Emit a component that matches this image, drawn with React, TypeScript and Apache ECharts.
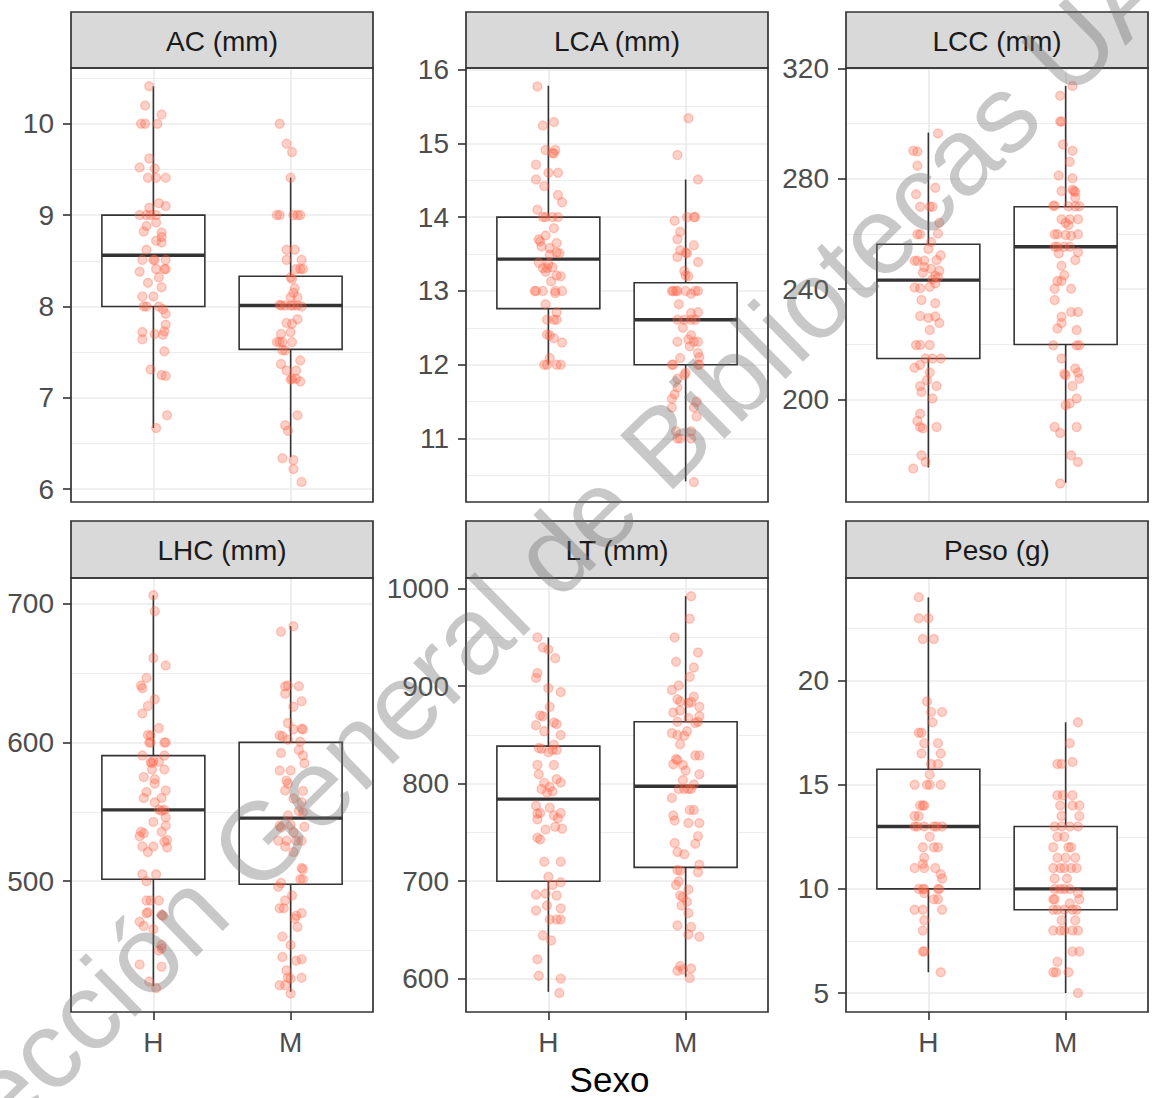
import React, { useEffect, useRef } from "react";
import * as echarts from "echarts";

// ---------- data ----------
const categories = ["H", "M"];
const panelTitles = ["AC (mm)", "LCA (mm)", "LCC (mm)", "LHC (mm)", "LT (mm)", "Peso (g)"];
const xTitle = "Sexo";
const watermarkText = "Dirección General de Bibliotecas UAQ";

// y-axis ranges, major ticks and minor grid values per panel
const yRanges = [[5.86, 10.61], [10.14, 16.02], [162.8, 320.1], [405.7, 718.5], [565.8, 1011], [4.09, 24.93]];
const yMajor = [[6, 7, 8, 9, 10], [11, 12, 13, 14, 15, 16], [200, 240, 280, 320], [500, 600, 700], [600, 700, 800, 900, 1000], [5, 10, 15, 20]];
const yMinor = [[6.5, 7.5, 8.5, 9.5, 10.5], [10.5, 11.5, 12.5, 13.5, 14.5, 15.5], [180, 220, 260, 300], [450, 550, 650], [650, 750, 850, 950], [7.5, 12.5, 17.5, 22.5]];

// box stats: [lower whisker, Q1, median, Q3, upper whisker] for H, M
const acBox = [[6.67, 8, 8.56, 9, 10.41], [6.35, 7.53, 8.01, 8.33, 9.41]];
const lcaBox = [[12.0, 12.76, 13.43, 14.0, 15.78], [10.42, 12.0, 12.61, 13.11, 14.51]];
const lccBox = [[175.3, 214.8, 243.2, 256.2, 296.7], [169.8, 219.9, 255.3, 269.8, 313.6]];
const lhcBox = [[424.3, 501.4, 551.4, 590.5, 706], [420.3, 497.8, 545.4, 600, 683.8]];
const ltBox = [[586.5, 700, 784.2, 838.5, 950], [601.9, 714.2, 797.3, 863.5, 992.3]];
const pesoBox = [[6, 10, 13, 15.75, 24], [5, 9, 10, 13, 18]];

// jittered points: [horizontal jitter offset, value]
const acH = [[-0.03,10.41],[-0.06,10.2],[0.06,10.1],[-0.09,10],[-0.06,10],[0.03,10],[-0.03,9.62],[-0.1,9.52],[0.01,9.51],[-0.04,9.41],[0.02,9.41],[0.09,9.41],[0.04,9.13],[0.09,9.1],[-0.03,9.08],[-0.1,9],[-0.05,9],[-0.02,9],[0.02,9],[0.02,8.92],[-0.05,8.88],[-0.07,8.82],[0.06,8.81],[0.06,8.76],[0.02,8.72],[0.06,8.7],[-0.05,8.62],[-0.08,8.51],[0,8.51],[0.01,8.51],[0.09,8.51],[0.02,8.41],[0.08,8.41],[0.09,8.41],[-0.1,8.38],[0.04,8.32],[-0.04,8.26],[0.06,8.21],[-0.08,8.11],[0,8.11],[-0.07,8],[-0.05,8],[0.04,8],[0.07,7.97],[0.09,7.92],[0.09,7.8],[0.08,7.73],[0.07,7.69],[0.01,7.7],[-0.08,7.72],[-0.08,7.64],[0.08,7.51],[-0.02,7.31],[0.06,7.25],[0.09,7.24],[0.1,6.81],[0.02,6.67]];
const acM = [[-0.08,10],[-0.03,9.78],[0.01,9.69],[0,9.41],[-0.1,9],[-0.08,9],[0.02,9],[0.05,9],[0.07,9],[-0.03,8.62],[0.03,8.62],[-0.03,8.51],[0.08,8.51],[0.04,8.41],[0.07,8.41],[0.09,8.41],[0,8.32],[0.01,8.3],[0.03,8.2],[0.02,8.15],[0.05,8.1],[0,8.1],[-0.08,8.02],[-0.07,8.01],[-0.04,8.01],[0,8.01],[0.02,8.01],[0.05,8.01],[0.08,8],[0.01,7.81],[-0.03,7.82],[0.05,7.86],[-0.07,7.7],[0,7.72],[-0.1,7.61],[-0.08,7.61],[-0.06,7.61],[0.01,7.61],[-0.06,7.52],[-0.04,7.52],[0.07,7.41],[-0.07,7.37],[-0.03,7.3],[0.04,7.3],[0.01,7.21],[0.04,7.21],[0,7.2],[0.07,7.18],[0.05,6.81],[-0.04,6.7],[-0.02,6.64],[-0.06,6.34],[0.02,6.32],[0.02,6.22],[0.08,6.08]];
const lcaH = [[-0.08,15.77],[0.04,15.29],[-0.04,15.24],[-0.02,14.91],[0.05,14.91],[0.03,14.87],[0.04,14.86],[-0.09,14.71],[0,14.6],[0.07,14.6],[-0.09,14.51],[-0.03,14.42],[0.07,14.3],[0.1,14.2],[-0.08,14.1],[-0.04,14],[-0.02,14],[0.03,14],[0.07,14],[0.04,13.85],[-0.02,13.75],[-0.07,13.7],[-0.06,13.67],[0.06,13.65],[-0.05,13.6],[0.01,13.58],[0.06,13.52],[0.08,13.51],[0.01,13.49],[-0.07,13.38],[0,13.36],[-0.04,13.31],[-0.01,13.31],[0.03,13.32],[-0.02,13.26],[0.06,13.21],[0.09,13.2],[0.02,13.13],[-0.1,13],[-0.09,13],[-0.04,13],[0.05,13],[0.1,13],[0.05,12.97],[-0.02,12.82],[0.06,12.71],[-0.01,12.61],[0.04,12.61],[0.06,12.61],[-0.01,12.41],[0.01,12.4],[0.04,12.36],[0.1,12.3],[0.01,12.09],[-0.03,12],[-0.01,12],[0.06,12],[0.09,12]];
const lcaM = [[0.02,15.34],[-0.06,14.84],[0.09,14.51],[-0.08,13.95],[0.01,14],[0.06,14],[0.07,14],[-0.04,13.8],[-0.06,13.7],[0.06,13.62],[-0.04,13.55],[0,13.52],[0.01,13.51],[-0.06,13.46],[0.09,13.39],[-0.01,13.27],[0,13.21],[0.02,13.2],[-0.1,13],[-0.09,13],[-0.07,13],[-0.06,13],[0,13],[0.07,13],[0.09,13],[0.04,12.96],[-0.05,12.82],[0.09,12.71],[0.04,12.7],[-0.06,12.61],[-0.01,12.61],[0.04,12.61],[0.07,12.61],[-0.02,12.5],[0.04,12.4],[0.02,12.34],[-0.06,12.31],[0.06,12.31],[0.09,12.31],[0.03,12.25],[0.09,12.16],[0.1,12.1],[-0.04,12.09],[-0.1,12],[-0.09,12],[0.09,12],[0.1,12],[0,11.89],[-0.01,11.86],[-0.06,11.81],[-0.06,11.69],[-0.08,11.6],[-0.1,11.54],[0.08,11.5],[-0.1,11.42],[0.06,11.42],[0.08,11.3],[-0.07,11.1],[0.04,11.1],[-0.06,11],[-0.04,11],[0.04,11],[0.06,10.41]];
const lccH = [[0.07,296.4],[-0.11,290.1],[-0.08,289.8],[-0.08,284.7],[0.05,276.7],[-0.09,274.3],[-0.06,269.8],[0.01,269.8],[0.03,269.8],[0.08,264],[0.07,260.1],[-0.08,259.8],[-0.06,259.8],[0.02,257],[0,254.5],[0.09,252.2],[-0.1,250.2],[-0.08,250.2],[-0.03,250.2],[0.06,250.5],[-0.03,248],[0.02,247.3],[0.08,246.6],[-0.04,245.9],[0.05,244.8],[0.07,244.3],[0.03,243.5],[0.05,242],[-0.1,240.5],[-0.06,240.3],[0.01,240.8],[-0.05,236],[0.05,234.8],[-0.06,230.2],[0,229.5],[0.05,230],[0.08,227.7],[0.01,225.1],[-0.09,219.7],[-0.06,219.7],[0.01,219.7],[-0.02,214.8],[0.03,214.8],[0.09,214.8],[-0.1,211.5],[-0.06,212.5],[0.01,209.7],[-0.01,206.9],[-0.06,204.8],[0.06,204.8],[-0.05,202.7],[0.03,200.3],[-0.06,194.8],[-0.08,192.2],[-0.06,190],[-0.04,189.5],[0.06,190],[-0.05,179.7],[-0.02,177.3],[-0.11,174.9]];
const lccM = [[0.05,313.6],[-0.04,310],[-0.04,300.7],[-0.03,300.7],[-0.02,292.4],[0.05,290.1],[0.03,286.1],[-0.05,281.1],[0.05,280.1],[-0.03,275.5],[0.05,276],[0.06,275.5],[0.07,275.2],[0.07,273.1],[-0.09,270.2],[-0.08,270.2],[0.02,270],[0.07,270],[0.1,270],[-0.03,265.3],[0.03,265.3],[0.09,265.3],[0,264],[0.02,263.2],[-0.08,259.8],[-0.06,259.8],[0,259.6],[0.04,259.3],[0.09,259.8],[-0.08,255.3],[-0.06,255.3],[-0.01,255.3],[0.03,255.3],[0.09,253.3],[-0.05,252.9],[0.07,250.5],[-0.03,248.4],[-0.01,245],[-0.06,242.9],[-0.03,242.9],[-0.08,240.1],[0.04,240.1],[-0.08,236],[0.04,231.7],[0.09,231.7],[-0.03,229.9],[-0.03,227.7],[-0.06,225.7],[0.08,225.1],[-0.09,219.6],[0.08,219.6],[0.1,219.6],[-0.03,214.8],[0.07,211.2],[0.09,209.7],[-0.01,209.3],[0,208.7],[0.1,207.5],[0.05,204.8],[0.08,200.3],[0.03,198.5],[0,197.9],[-0.08,190],[0.08,190],[-0.04,187.8],[0.04,179.7],[0.09,177.3],[-0.04,169.5]];
const lhcH = [[0,706],[0.01,694.6],[0,660.8],[0.09,655.4],[-0.05,646.5],[-0.09,641],[-0.08,639],[0.01,631.1],[-0.04,626.2],[-0.08,620.8],[0.04,610.3],[-0.04,605.4],[-0.02,605],[-0.03,600],[-0.02,600],[0.08,600],[0.09,600],[-0.08,590.5],[0.08,590.5],[-0.02,585.9],[-0.01,585],[0,586.5],[0.04,586],[-0.01,580.5],[0.08,580.5],[-0.07,575.1],[0.01,573.5],[0.01,570.3],[0.09,565.4],[-0.05,564.3],[-0.07,560],[0.06,560],[0.01,556.8],[0.04,551.4],[0.06,550.8],[0.08,551.4],[0.09,546],[0,542.7],[0.09,540],[-0.09,535.7],[-0.07,534.6],[-0.1,532.4],[0.06,535.7],[0.1,529.7],[0.08,528.4],[0.1,524.3],[-0.08,524.9],[0,524.9],[-0.04,521],[-0.08,505],[0.02,505],[-0.05,500],[-0.05,486],[-0.02,486],[0.04,486],[-0.04,477.6],[-0.05,476.8],[0.06,475.7],[0.07,475],[-0.1,470.8],[-0.07,467.6],[0,465.4],[0.06,454],[0.04,450],[0.06,451.4],[-0.1,440],[0.06,438.4],[-0.03,427.6],[0.02,423]];
const lhcM = [[0.02,683.8],[-0.07,679.7],[-0.04,640.5],[-0.02,641],[0.06,640.5],[-0.04,635.1],[0.08,629.7],[0.02,625.7],[-0.02,614],[0.09,609.5],[0.08,609.8],[-0.08,605],[-0.06,604.5],[0.02,609.5],[-0.02,602],[0.07,600.5],[0.09,590.5],[0.06,594.6],[-0.07,592.4],[0.1,585],[-0.08,579.7],[0,579.7],[-0.03,572.4],[-0.02,570.3],[0.09,565],[-0.04,565.4],[0.02,559.5],[0.08,556.8],[0.06,550.5],[0.09,549.7],[-0.02,547.3],[-0.08,540],[-0.07,538.6],[0,540.5],[0.1,539.2],[0.02,535],[-0.09,529.2],[-0.03,529.2],[0.04,529.2],[0.08,529.2],[-0.04,525],[0.02,521],[0.08,509.5],[0.09,508.6],[0.07,501.4],[0.09,501.4],[-0.07,498.6],[-0.09,495.9],[0.01,489.7],[-0.04,486],[-0.08,480.5],[-0.05,480.5],[0.08,477],[0.04,475.1],[0.03,473],[0.05,467],[-0.06,460],[0,454],[-0.06,445.4],[0.08,443.8],[0.04,442.7],[-0.03,435.7],[-0.02,430.3],[0,429.7],[0.08,430.3],[-0.08,424.9],[-0.04,424.9],[0,419]];
const ltH = [[-0.08,950],[-0.04,939.6],[0,937.7],[0.05,928.8],[-0.08,913.5],[-0.09,908.5],[0,898],[0.09,894],[0.01,878.8],[-0.06,870],[-0.04,869.2],[0.04,862.7],[0.06,861.2],[-0.09,860],[-0.03,853.8],[0.09,850],[-0.07,836.5],[-0.05,835.8],[0,832.3],[0.03,834.6],[0.06,834.6],[0.04,840],[-0.08,819.2],[0.04,819.2],[-0.07,809.6],[0.06,804.6],[0.09,801.2],[-0.03,800.8],[-0.05,794.6],[0.01,796.5],[0.03,791.9],[-0.01,790.8],[-0.09,777.3],[0.01,775.4],[-0.08,769.2],[-0.06,770],[0.09,770],[0.04,767.3],[0.07,764.6],[-0.08,763.5],[-0.02,753.1],[0.05,755.8],[0.1,753.8],[-0.08,744.6],[-0.06,742.7],[-0.03,720],[0.09,720],[0,704.6],[0.09,698.8],[0.03,696.2],[-0.09,686.2],[-0.02,687.3],[0.06,685.4],[-0.01,675],[-0.09,670],[0.09,671.9],[0.01,660.8],[0.06,660.8],[0.09,660.8],[-0.04,644.2],[0.02,639.2],[-0.08,620],[-0.07,603],[0.09,600],[0.08,585.4]];
const ltM = [[0.04,992.3],[0.03,969.2],[-0.08,950],[0.09,934.6],[-0.07,925],[0.06,919.2],[0.03,909.6],[-0.05,900.8],[-0.1,896.2],[-0.06,886.5],[-0.04,884.2],[0.06,889.2],[0.02,882.7],[0.04,883.8],[0.1,878.8],[-0.09,873.1],[-0.04,875],[0.02,867.3],[0.1,869.2],[-0.06,863.5],[0.09,863.5],[0.07,862.3],[0.01,853.8],[-0.1,851.9],[-0.06,850],[-0.01,849.2],[-0.04,840.4],[-0.07,825.4],[-0.06,824.2],[-0.09,820],[0.07,828.8],[0.1,828.8],[-0.02,819.2],[0,813.5],[0.1,809.6],[-0.02,803.8],[0.06,799.2],[-0.05,794.6],[-0.01,794.6],[0.02,794.6],[0.04,794.6],[-0.1,785.4],[0.03,773.1],[0.06,773.1],[-0.09,767.3],[-0.08,762.3],[0.02,759.6],[0.1,759.6],[0.09,746.2],[0.07,738.5],[-0.08,739.2],[-0.06,730],[-0.01,727.7],[0.1,716.9],[0.09,709.2],[-0.06,711.5],[-0.04,710.8],[-0.05,700],[-0.07,696.2],[0.02,691.5],[-0.04,685.4],[-0.02,683.8],[0.01,678.8],[-0.03,675],[0.02,667.3],[-0.06,654.6],[0.04,653.1],[0.02,645.4],[0.1,643.1],[-0.04,613.1],[-0.06,608.1],[-0.02,609.2],[0.04,610.4],[0.03,600.8]];
const pesoH = [[-0.07,24],[-0.07,23],[0,23],[-0.04,22],[0.04,22],[-0.01,19],[0.02,18.5],[0.1,18.5],[0.03,18],[-0.07,17.5],[-0.05,17.5],[-0.03,17],[0.07,17],[-0.05,16.5],[0.09,16.5],[0.02,16],[0.07,16],[0.01,15.5],[-0.1,15],[-0.01,15],[0.01,15],[0.09,15],[-0.06,14],[-0.04,14],[-0.03,14],[-0.1,13.5],[-0.07,13.5],[-0.1,13],[-0.08,13],[-0.03,13],[0.04,13],[0.06,13],[0.1,13],[0.01,12.5],[-0.04,12],[0.04,12],[0.07,12],[-0.03,11.5],[-0.04,11.2],[-0.1,11],[-0.03,11],[0.05,11],[0.09,10.7],[0.1,10.5],[-0.07,10],[-0.04,10],[-0.03,10],[0.07,10],[0.08,10],[-0.03,9.8],[0.04,9.5],[0.07,9.5],[-0.1,9],[-0.04,9],[0.1,9],[-0.03,8.5],[-0.04,8],[-0.04,7],[-0.03,7],[0.09,6]];
const pesoM = [[0.09,18],[0.03,17],[-0.06,16],[-0.03,16],[0.05,16.1],[-0.06,14.5],[-0.02,14.5],[0.05,14.5],[-0.04,14],[0.05,14],[0.1,14],[-0.03,13.5],[0.1,13.5],[-0.08,13],[-0.03,13],[0.03,13],[0.09,13],[-0.06,12.5],[-0.01,12.5],[-0.09,12],[0.02,12],[0.04,12],[-0.06,11.5],[0,11.5],[0.07,11.5],[-0.09,11],[-0.04,11],[-0.01,11],[0.04,11],[0.08,11],[-0.08,10.5],[0.01,10.5],[-0.08,10],[-0.04,10],[-0.01,10],[0.03,10],[0.09,9.8],[-0.09,9.5],[-0.08,9.5],[0.1,9.5],[0.03,9.3],[-0.09,9],[-0.06,9],[-0.01,9],[0.05,9],[0.08,9],[-0.03,8.5],[0.07,8.5],[-0.09,8],[-0.04,8],[-0.01,8],[0.05,8],[0.09,8],[0.05,7],[0.1,7],[-0.06,6.5],[-0.09,6],[-0.07,6],[0.02,6],[0.09,5]];

const panelBoxes = [acBox, lcaBox, lccBox, lhcBox, ltBox, pesoBox];
const panelPoints = [[acH, acM], [lcaH, lcaM], [lccH, lccM], [lhcH, lhcM], [ltH, ltM], [pesoH, pesoM]];

// ---------- layout & style ----------
const FONT = "'Liberation Sans', Arial, Helvetica, sans-serif";
const COL_LEFT = [71, 466, 846];
const ROW_STRIP_TOP = [12, 521];
const ROW_TOP = [68, 578];
const PW = 302;
const PH = 434;
const DARK = "#333333";
const GRID = "#EBEBEB";
const PT = "rgba(255,99,71,0.3)";

function buildOption() {
  const grid: any[] = [];
  const xAxis: any[] = [];
  const yAxis: any[] = [];
  const series: any[] = [];
  const elements: any[] = [];

  for (let i = 0; i < 6; i++) {
    const r = Math.floor(i / 3);
    const c = i % 3;
    const left = COL_LEFT[c];
    const top = ROW_TOP[r];
    const bottomRow = r === 1;
    grid.push({ left, top, width: PW, height: PH, containLabel: false, outerBoundsMode: "none", show: false });

    xAxis.push({
      type: "value", gridIndex: i, min: 0.4, max: 2.6,
      axisLine: { show: false },
      axisTick: { show: bottomRow, length: 8, lineStyle: { color: DARK, width: 1.6 }, customValues: [1, 2] },
      axisLabel: {
        show: bottomRow, customValues: [1, 2], margin: 16,
        formatter: (v: number) => categories[Math.round(v) - 1] || "",
        color: "#4D4D4D", fontSize: 28, fontFamily: FONT,
      },
      splitLine: { show: true, lineStyle: { color: GRID, width: 1.7 } },
    });

    const [ymin, ymax] = yRanges[i];
    // minor grid axis (drawn first)
    yAxis.push({
      type: "value", gridIndex: i, min: ymin, max: ymax, position: "right",
      axisLine: { show: false },
      axisTick: { show: false, customValues: yMinor[i] },
      axisLabel: { show: false, customValues: yMinor[i] },
      splitLine: { show: true, lineStyle: { color: GRID, width: 0.9 } },
    });
    // major axis
    yAxis.push({
      type: "value", gridIndex: i, min: ymin, max: ymax, position: "left",
      axisLine: { show: false },
      axisTick: { show: true, length: 8, lineStyle: { color: DARK, width: 1.6 }, customValues: yMajor[i] },
      axisLabel: {
        show: true, customValues: yMajor[i], margin: 17,
        formatter: (v: number) => String(v),
        color: "#4D4D4D", fontSize: 28, fontFamily: FONT,
      },
      splitLine: { show: true, lineStyle: { color: GRID, width: 1.7 } },
    });

    const boxData = panelBoxes[i].map((s, gi) => [gi + 1, ...s]);
    series.push({
      type: "custom", xAxisIndex: i, yAxisIndex: 2 * i + 1, z: 3,
      encode: { x: 0, y: [1, 2, 3, 4, 5] },
      data: boxData,
      renderItem: (params: any, api: any) => {
        const x = api.value(0);
        const lo = api.coord([x, api.value(1)]);
        const q1 = api.coord([x, api.value(2)]);
        const md = api.coord([x, api.value(3)]);
        const q3 = api.coord([x, api.value(4)]);
        const hi = api.coord([x, api.value(5)]);
        const half = api.size([0.375, 0])[0];
        const ls = { stroke: DARK, lineWidth: 1.6, fill: "none" };
        return {
          type: "group",
          children: [
            { type: "line", shape: { x1: lo[0], y1: lo[1], x2: q1[0], y2: q1[1] }, style: ls },
            { type: "line", shape: { x1: q3[0], y1: q3[1], x2: hi[0], y2: hi[1] }, style: ls },
            { type: "rect", shape: { x: q3[0] - half, y: q3[1], width: 2 * half, height: q1[1] - q3[1] }, style: { fill: "#ffffff", stroke: DARK, lineWidth: 1.6 } },
            { type: "line", shape: { x1: md[0] - half, y1: md[1], x2: md[0] + half, y2: md[1] }, style: { stroke: DARK, lineWidth: 3.4 } },
          ],
        };
      },
    });

    const pts: number[][] = [];
    panelPoints[i].forEach((arr, gi) => arr.forEach(([dx, y]) => pts.push([gi + 1 + dx, y])));
    series.push({
      type: "scatter", xAxisIndex: i, yAxisIndex: 2 * i + 1, z: 5,
      data: pts, symbol: "circle", symbolSize: 9,
      itemStyle: { color: PT, borderColor: PT, borderWidth: 1.4, opacity: 1 },
      emphasis: { disabled: true },
    });

    // strip
    const stripTop = ROW_STRIP_TOP[r];
    const stripH = top - stripTop;
    elements.push({
      type: "rect", z: 50, silent: true,
      shape: { x: left, y: stripTop, width: PW, height: stripH },
      style: { fill: "#D9D9D9", stroke: DARK, lineWidth: 1.7 },
    });
    elements.push({
      type: "text", z: 51, silent: true, x: left + PW / 2, y: stripTop + stripH / 2 + 1,
      style: { text: panelTitles[i], fontSize: 28, fontFamily: FONT, fill: "#1A1A1A", textAlign: "center", textVerticalAlign: "middle" },
    });
    // panel border
    elements.push({
      type: "rect", z: 50, silent: true,
      shape: { x: left, y: top, width: PW, height: PH },
      style: { fill: "none", stroke: DARK, lineWidth: 1.7 },
    });
  }

  elements.push({
    type: "text", z: 51, silent: true, x: (COL_LEFT[0] + COL_LEFT[2] + PW) / 2, y: 1079,
    style: { text: xTitle, fontSize: 35, fontFamily: FONT, fill: "#000000", textAlign: "center", textVerticalAlign: "middle" },
  });
  elements.push({
    type: "text", z: 100, silent: true, x: 546, y: 560, rotation: 0.775,
    style: { text: watermarkText, fontSize: 110, fontFamily: FONT, fill: "rgba(110,110,110,0.38)", textAlign: "center", textVerticalAlign: "middle" },
  });

  return {
    animation: false,
    backgroundColor: "#ffffff",
    textStyle: { fontFamily: FONT },
    grid, xAxis, yAxis, series,
    graphic: { elements },
  };
}

export default function App() {
  const ref = useRef<HTMLDivElement>(null);
  useEffect(() => {
    if (!ref.current) return;
    const chart = echarts.init(ref.current, undefined, { renderer: "svg" });
    chart.setOption(buildOption() as any);
    return () => chart.dispose();
  }, []);
  return <div ref={ref} style={{ position: "absolute", left: 0, top: 0, width: 1152, height: 1098 }} />;
}
